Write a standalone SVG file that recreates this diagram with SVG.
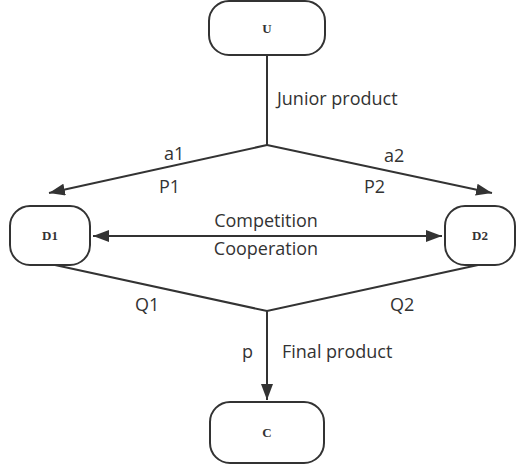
<svg xmlns="http://www.w3.org/2000/svg" width="517" height="470" viewBox="0 0 517 470">
<style>
.node{fill:#fff;stroke:#333;stroke-width:2}
.nl{font-family:"Liberation Serif",serif;font-weight:bold;font-size:13px;fill:#333;text-anchor:middle}
.el{font-family:"Open Sans","Noto Sans",sans-serif;font-size:18px;fill:#333}
.ln{stroke:#333;stroke-width:2;fill:none}
</style>
<defs>
<marker id="ahb" viewBox="0 0 16 12" refX="16" refY="6" markerWidth="16" markerHeight="12" markerUnits="userSpaceOnUse" orient="auto-start-reverse">
<path d="M0,0 L16,6 L0,12 Z" fill="#333"/>
</marker>
</defs>
<rect width="517" height="470" fill="#fff"/>
<g id="connectors">
<path class="ln" d="M267,55 V145"/>
<path class="ln" d="M267,145 L49,193" marker-end="url(#ahb)"/>
<path class="ln" d="M267,145 L492,193" marker-end="url(#ahb)"/>
<path class="ln" d="M93,236 H442" marker-start="url(#ahb)" marker-end="url(#ahb)"/>
<path class="ln" d="M55,265 L267,311 L478,265"/>
<path class="ln" d="M267,311 V400" marker-end="url(#ahb)"/>
<text class="el" x="277" y="105">Junior product</text>
<text class="el" x="164" y="160">a1</text>
<text class="el" x="159" y="193">P1</text>
<text class="el" x="384" y="162">a2</text>
<text class="el" x="364" y="193">P2</text>
<text class="el" x="266" y="227" text-anchor="middle">Competition</text>
<text class="el" x="266" y="255" text-anchor="middle">Cooperation</text>
<text class="el" x="135" y="311">Q1</text>
<text class="el" x="390" y="311">Q2</text>
<text class="el" x="242" y="358">p</text>
<text class="el" x="282" y="358">Final product</text>
</g>
<g id="U"><rect class="node" x="209" y="1" width="116" height="54" rx="20"/><text class="nl" x="267" y="33">U</text></g>
<g id="D1"><rect class="node" x="10" y="206" width="80" height="59" rx="20"/><text class="nl" x="50" y="240">D1</text></g>
<g id="D2"><rect class="node" x="445" y="206" width="70" height="59" rx="20"/><text class="nl" x="480" y="240">D2</text></g>
<g id="C"><rect class="node" x="210" y="402" width="114" height="61" rx="20"/><text class="nl" x="267" y="437">C</text></g>
</svg>
